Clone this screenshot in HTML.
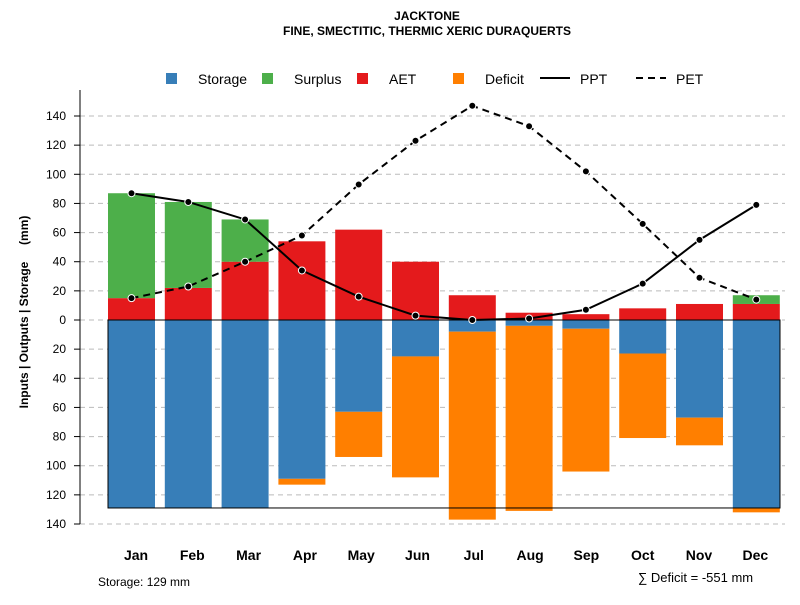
<!DOCTYPE html>
<html><head><meta charset="utf-8"><style>
body{margin:0;background:#fff;font-family:"Liberation Sans",sans-serif}
svg text{font-family:"Liberation Sans",sans-serif}
</style></head><body>
<svg id="c" width="800" height="600" xmlns="http://www.w3.org/2000/svg">
<text x="427" y="20" text-anchor="middle" font-size="12" font-weight="bold">JACKTONE</text>
<text x="427" y="35" text-anchor="middle" font-size="12" font-weight="bold">FINE, SMECTITIC, THERMIC XERIC DURAQUERTS</text>
<g id="grid"></g>
<g id="bars"></g>
<g id="lines"></g>
<g id="axes"></g>
<g font-size="14">
<rect x="166" y="73" width="11" height="11" fill="#377eb8"/>
<text x="198" y="84">Storage</text>
<rect x="262" y="73" width="11" height="11" fill="#4daf4a"/>
<text x="294" y="84">Surplus</text>
<rect x="357" y="73" width="11" height="11" fill="#e41a1c"/>
<text x="389" y="84">AET</text>
<rect x="453" y="73" width="11" height="11" fill="#ff7f00"/>
<text x="485" y="84">Deficit</text>
<line x1="540" y1="78" x2="570" y2="78" stroke="#000" stroke-width="2"/>
<text x="580" y="84">PPT</text>
<line x1="636" y1="78" x2="666" y2="78" stroke="#000" stroke-width="2" stroke-dasharray="7,5"/>
<text x="676" y="84">PET</text>
</g>
<text x="28" y="312" transform="rotate(-90 28 312)" text-anchor="middle" font-size="12" font-weight="bold" xml:space="preserve" style="white-space:pre">Inputs | Outputs | Storage     (mm)</text>
<text x="98" y="586" font-size="12">Storage: 129 mm</text>
<text x="638" y="582" font-size="13">∑ Deficit = -551 mm</text>
</svg>
<script>
const months=["Jan","Feb","Mar","Apr","May","Jun","Jul","Aug","Sep","Oct","Nov","Dec"];
const storage=[129,129,129,109,63,25,8,4,6,23,67,129];
const deficit=[0,0,0,4,31,83,129,127,98,58,19,3];
const aet=[15,22,40,54,62,40,17,5,4,8,11,11];
const surplus=[72,59,29,0,0,0,0,0,0,0,0,6];
const ppt=[87,81,69,34,16,3,0,1,7,25,55,79];
const pet=[15,23,40,58,93,123,147,133,102,66,29,14];
const ticks=[-140,-120,-100,-80,-60,-40,-20,0,20,40,60,80,100,120,140];
const maxStorage=129;
const NS="http://www.w3.org/2000/svg";
const y=v=>320-v*(204/140);
const x=i=>131.5+i*56.8;
const lx=i=>136+i*56.3;
const bw=47;
function mk(p,t,a){const e=document.createElementNS(NS,t);for(const k in a)e.setAttribute(k,a[k]);document.getElementById(p).appendChild(e);return e;}
ticks.forEach(t=>{
 let g=mk("grid","line",{x1:80,x2:785,y1:y(t),y2:y(t),stroke:"#bbb","stroke-dasharray":"5,4"});
 
 
 let tk=mk("axes","line",{x1:74,x2:80,y1:y(t),y2:y(t),stroke:"#000"});
 
 
 let l=mk("axes","text",{x:66,y:y(t)+4,"text-anchor":"end","font-size":12});
 l.textContent=Math.abs(t);
 
 
});
let ax=mk("axes","line",{x1:80,x2:80,y1:90,y2:y(-140),stroke:"#000"});


months.forEach((m,i)=>{
 const cx=x(i),L=cx-bw/2;
 const parts=[[0,-storage[i],"#377eb8","bar-storage"],[-storage[i],-storage[i]-deficit[i],"#ff7f00","bar-deficit"],[0,aet[i],"#e41a1c","bar-aet"],[aet[i],aet[i]+surplus[i],"#4daf4a","bar-surplus"]];
 parts.forEach(p=>{if(p[0]===p[1])return;
  let r=mk("bars","rect",{x:L,width:bw,y:y(Math.max(p[0],p[1])),height:Math.abs(y(p[0])-y(p[1])),fill:p[2]});
  
  
 });
 let t=mk("axes","text",{x:lx(i),y:560,"text-anchor":"middle","font-size":14,"font-weight":"bold"});
 t.textContent=m;
 
 
});
let box=mk("bars","rect",{x:x(0)-bw/2,y:y(0),width:780-(x(0)-bw/2),height:y(-maxStorage)-y(0),fill:"none",stroke:"#000","stroke-width":1});


[[ppt,"","ppt"],[pet,"7,5","pet"]].forEach(s=>{
 let pl=mk("lines","polyline",{points:s[0].map((v,i)=>x(i)+","+y(v)).join(" "),fill:"none",stroke:"#000","stroke-width":2,"stroke-dasharray":s[1]});
 
 
 s[0].forEach((v,i)=>{let c=mk("lines","circle",{cx:x(i),cy:y(v),r:3.5,fill:"#000",stroke:"#fff","stroke-width":1});
  
  });
});
</script>
</body></html>
